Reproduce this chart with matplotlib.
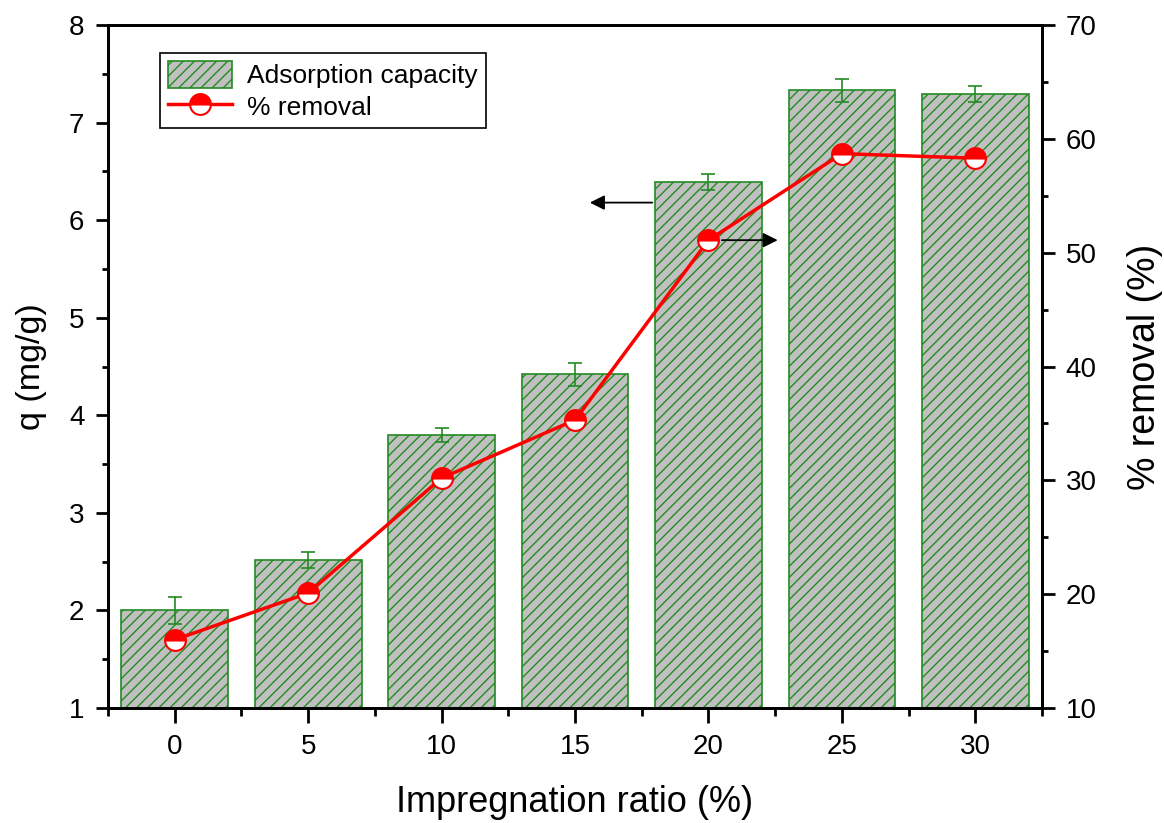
import matplotlib.pyplot as plt
from matplotlib.lines import Line2D
from matplotlib.patches import Patch
from matplotlib.ticker import MultipleLocator

plt.rcParams['font.family'] = ['Liberation Sans', 'DejaVu Sans']
plt.rcParams['hatch.linewidth'] = 1.0

# impregnation ratio (%)
ratio = [0, 5, 10, 15, 20, 25, 30]
# adsorption capacity q (mg/g) with error
q = [2.00, 2.52, 3.80, 4.42, 6.39, 7.33, 7.29]
q_err = [0.14, 0.08, 0.07, 0.12, 0.08, 0.12, 0.08]
# removal (%)
removal = [16.0, 20.1, 30.2, 35.3, 51.1, 58.7, 58.3]

green = '#228B22'
red = '#ff0000'

fig = plt.figure(figsize=(11.64, 8.23), dpi=100)
ax = fig.add_axes([0.0928, 0.1397, 0.8024, 0.8299])

ax.bar(ratio, q, width=4.0, bottom=0, color='#c0c0c0', edgecolor=green,
       hatch='///', linewidth=1.2, zorder=2)
ax.errorbar(ratio, q, yerr=q_err, fmt='none', ecolor=green, elinewidth=1.2,
            capsize=5, capthick=1.2, zorder=3)

ax.set_xlim(-2.5, 32.5)
ax.set_ylim(1, 8)
ax.set_xticks(ratio)
ax.xaxis.set_minor_locator(MultipleLocator(2.5))
ax.yaxis.set_minor_locator(MultipleLocator(0.5))
ax.tick_params(axis='both', which='major', direction='out', width=2,
               labelsize=20)
ax.tick_params(axis='x', which='major', length=11, pad=8)
ax.tick_params(axis='y', which='major', length=9, pad=8)
ax.tick_params(axis='x', which='minor', direction='out', width=2, length=6)
ax.tick_params(axis='y', which='minor', direction='out', width=2, length=4)
for s in ax.spines.values():
    s.set_linewidth(2)
ax.set_xlabel('Impregnation ratio (%)', fontsize=26, labelpad=18)
ax.set_ylabel('q (mg/g)', fontsize=24.5, labelpad=16)

ax2 = ax.twinx()
ax2.plot(ratio, removal, color=red, lw=2.5, marker='o', markersize=15,
         fillstyle='top', markerfacecolor=red, markerfacecoloralt='white',
         markeredgecolor=red, markeredgewidth=1.5, zorder=4)
ax2.set_ylim(10, 70)
ax2.yaxis.set_minor_locator(MultipleLocator(5))
ax2.tick_params(axis='y', which='major', direction='out', width=2, length=9,
                labelsize=20, pad=8)
ax2.tick_params(axis='y', which='minor', direction='out', width=2, length=4)
for s in ax2.spines.values():
    s.set_linewidth(2)
ax2.set_ylabel('% removal (%)', fontsize=27, labelpad=22)

# arrows pointing to each axis
ax.annotate('', xy=(15.45, 6.18), xytext=(18.0, 6.18),
            arrowprops=dict(arrowstyle='-|>', color='k', lw=1.3,
                            mutation_scale=22))
ax2.annotate('', xy=(22.7, 51.1), xytext=(20.4, 51.1),
             arrowprops=dict(arrowstyle='-|>', color='k', lw=1.3,
                             mutation_scale=22))

handles = [
    Patch(facecolor='#c0c0c0', edgecolor=green, hatch='///', linewidth=1.2),
    Line2D([], [], color=red, lw=2.5, marker='o', markersize=15,
           fillstyle='top', markerfacecolor=red, markerfacecoloralt='white',
           markeredgecolor=red, markeredgewidth=1.5),
]
leg = ax2.legend(handles, ['Adsorption capacity', '% removal'],
                 loc='upper left', bbox_to_anchor=(0.056, 0.959),
                 borderaxespad=0, fontsize=19, fancybox=False,
                 edgecolor='k', framealpha=1, handlelength=2.4,
                 handleheight=1.2, handletextpad=0.6, borderpad=0.3,
                 labelspacing=0.15)
leg.get_frame().set_linewidth(1.2)

fig.savefig('out.png', dpi=100)
